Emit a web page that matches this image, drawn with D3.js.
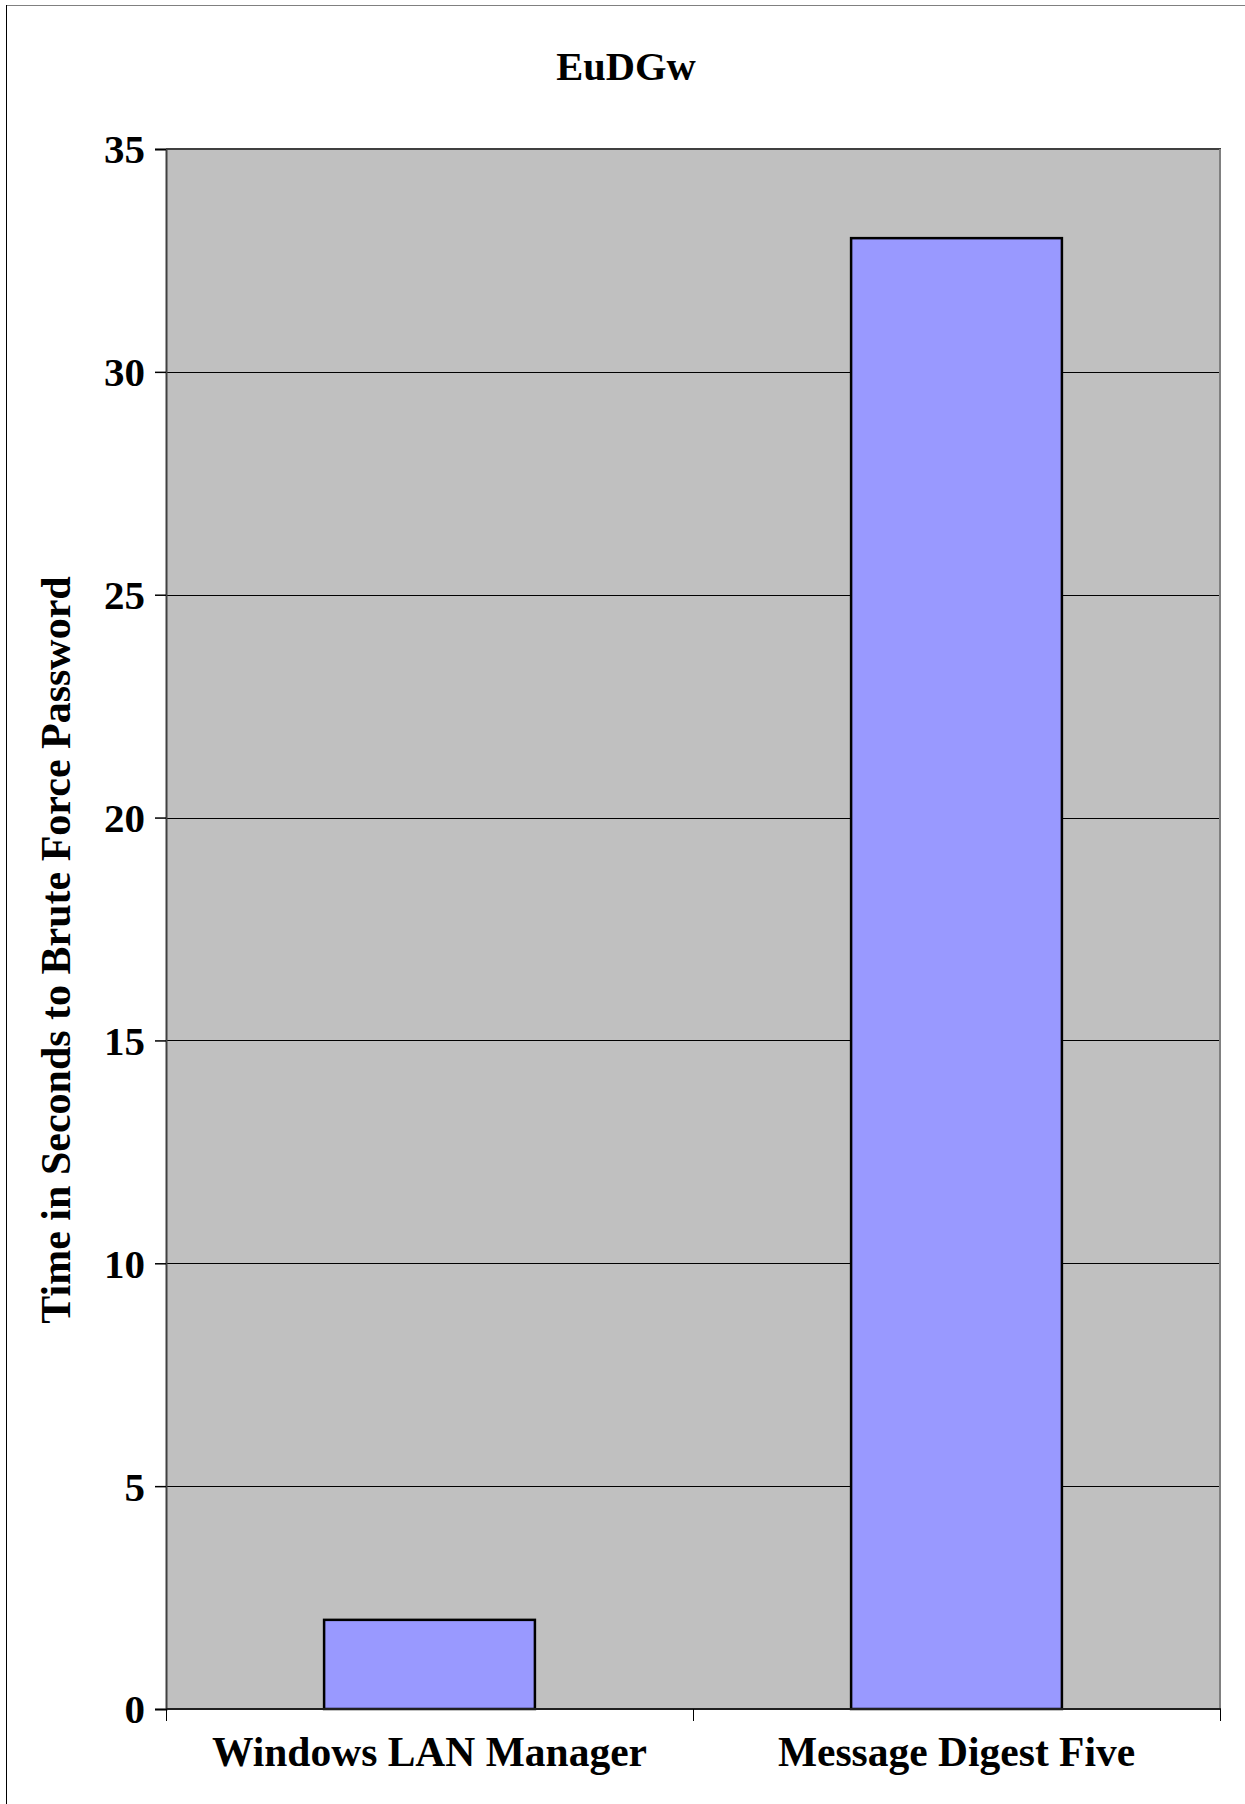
<!DOCTYPE html>
<html>
<head>
<meta charset="utf-8">
<script src="https://cdn.jsdelivr.net/npm/d3@7/dist/d3.min.js"></script>
<style>
  html, body { margin: 0; padding: 0; background: #fff; }
  svg { display: block; }
  text { font-family: "Liberation Serif", "Times New Roman", serif; font-weight: bold; fill: #000; }
</style>
</head>
<body>
<svg id="chart" width="1245" height="1804"></svg>
<script>
// Chart data
const chartTitle = "EuDGw";
const yAxisTitle = "Time in Seconds to Brute Force Password";
const categories = ["Windows LAN Manager", "Message Digest Five"];
const seconds = [2, 33];
const yTicks = [0, 5, 10, 15, 20, 25, 30, 35];

const svg = d3.select("#chart");
const W = 1245, H = 1804;
const plot = { left: 166, right: 1220, top: 149, bottom: 1709 };

// Outer frame
svg.append("line").attr("x1", 6).attr("x2", 1245).attr("y1", 5.5).attr("y2", 5.5)
  .attr("stroke", "#808080").attr("stroke-width", 1);
svg.append("line").attr("x1", 6.5).attr("x2", 6.5).attr("y1", 5).attr("y2", H)
  .attr("stroke", "#000").attr("stroke-width", 1);

const x = d3.scaleBand().domain(categories)
  .range([plot.left, plot.right]).paddingInner(0.6).paddingOuter(0.3);
const y = d3.scaleLinear().domain([0, 35]).range([plot.bottom, plot.top]);

// Plot background
svg.append("rect")
  .attr("x", plot.left).attr("y", plot.top)
  .attr("width", plot.right - plot.left).attr("height", plot.bottom - plot.top)
  .attr("fill", "#C0C0C0");

// Horizontal gridlines
svg.append("g").selectAll("line")
  .data(yTicks.filter(d => d > 0 && d < 35))
  .join("line")
  .attr("x1", plot.left).attr("x2", plot.right)
  .attr("y1", d => Math.round(y(d)) + 0.5).attr("y2", d => Math.round(y(d)) + 0.5)
  .attr("stroke", "#000").attr("stroke-width", 1);

// Plot border: top dark, right grey
svg.append("line").attr("x1", plot.left).attr("x2", plot.right + 1)
  .attr("y1", plot.top).attr("y2", plot.top)
  .attr("stroke", "#404040").attr("stroke-width", 2);
svg.append("line").attr("x1", plot.right).attr("x2", plot.right)
  .attr("y1", plot.top).attr("y2", plot.bottom)
  .attr("stroke", "#808080").attr("stroke-width", 2);

// Bars
svg.append("g").selectAll("rect")
  .data(categories.map((c, i) => ({ c, v: seconds[i] })))
  .join("rect")
  .attr("x", d => x(d.c))
  .attr("y", d => y(d.v))
  .attr("width", x.bandwidth())
  .attr("height", d => y(0) - y(d.v))
  .attr("fill", "#9999FF")
  .attr("stroke", "#000")
  .attr("stroke-width", 2.5);

// Y axis
const yAxis = svg.append("g")
  .attr("transform", `translate(${plot.left},0)`)
  .call(d3.axisLeft(y).tickValues(yTicks).tickSize(11).tickPadding(10).tickFormat(d3.format("d")));
yAxis.select(".domain").attr("stroke", "#404040").attr("stroke-width", 2);
yAxis.selectAll(".tick line").attr("stroke", "#000").attr("stroke-width", 1.5);
yAxis.selectAll(".tick text")
  .attr("font-family", "'Liberation Serif', 'Times New Roman', serif")
  .attr("font-weight", "bold").attr("font-size", 41).attr("fill", "#000")
  .attr("dy", "0.34em");

// X axis line and category separators (one at each band boundary)
const xAxis = svg.append("g");
xAxis.append("line").attr("x1", plot.left).attr("x2", plot.right + 1)
  .attr("y1", plot.bottom).attr("y2", plot.bottom)
  .attr("stroke", "#202020").attr("stroke-width", 2);
const sepPositions = d3.range(categories.length + 1).map(i => plot.left + i * x.step());
xAxis.selectAll("line.sep").data(sepPositions).join("line")
  .attr("class", "sep")
  .attr("x1", d => Math.round(d) + 0.5).attr("x2", d => Math.round(d) + 0.5)
  .attr("y1", plot.bottom).attr("y2", plot.bottom + 12)
  .attr("stroke", "#000").attr("stroke-width", 1);

// Category labels
xAxis.selectAll("text").data(categories).join("text")
  .attr("x", d => x(d) + x.bandwidth() / 2)
  .attr("y", 1766)
  .attr("text-anchor", "middle")
  .attr("font-size", 41.5)
  .text(d => d);

// Title
svg.append("text")
  .attr("x", 626).attr("y", 80)
  .attr("text-anchor", "middle")
  .attr("font-size", 40.5)
  .text(chartTitle);

// Y axis title
svg.append("text")
  .attr("transform", `translate(70, 950) rotate(-90)`)
  .attr("text-anchor", "middle")
  .attr("font-size", 42)
  .text(yAxisTitle);
</script>
</body>
</html>
